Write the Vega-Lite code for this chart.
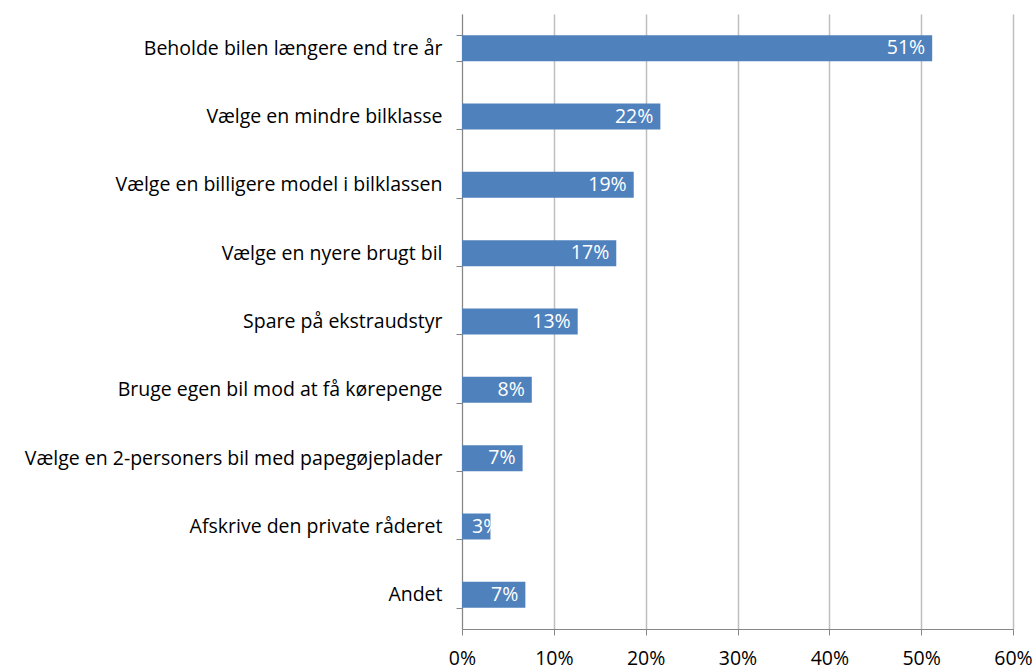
{
  "$schema": "https://vega.github.io/schema/vega-lite/v6.json",
  "width": 551,
  "height": 615,
  "autosize": {"type": "none"},
  "padding": {"left": 462, "top": 14, "right": 22, "bottom": 40},
  "background": "white",
  "config": {"view": {"stroke": null}, "font": "Open Sans"},
  "data": {
    "values": [
      {"kategori": "Beholde bilen længere end tre år", "andel": 0.512},
      {"kategori": "Vælge en mindre bilklasse", "andel": 0.216},
      {"kategori": "Vælge en billigere model i bilklassen", "andel": 0.187},
      {"kategori": "Vælge en nyere brugt bil", "andel": 0.168},
      {"kategori": "Spare på ekstraudstyr", "andel": 0.126},
      {"kategori": "Bruge egen bil mod at få kørepenge", "andel": 0.076},
      {"kategori": "Vælge en 2-personers bil med papegøjeplader", "andel": 0.066},
      {"kategori": "Afskrive den private råderet", "andel": 0.031},
      {"kategori": "Andet", "andel": 0.069}
    ]
  },
  "encoding": {
    "y": {
      "field": "kategori",
      "type": "nominal",
      "sort": null,
      "scale": {"paddingInner": 0.62, "paddingOuter": 0.31},
      "axis": {
        "title": null,
        "domainColor": "#868686",
        "tickColor": "#868686",
        "tickSize": 6,
        "tickBand": "extent",
        "labelFontSize": 19.5,
        "labelColor": "#000000",
        "labelPadding": 14,
        "labelLimit": 500,
        "grid": false
      }
    },
    "x": {
      "field": "andel",
      "type": "quantitative",
      "scale": {"domain": [0, 0.6], "nice": false},
      "axis": {
        "title": null,
        "format": ".0%",
        "values": [0, 0.1, 0.2, 0.3, 0.4, 0.5, 0.6],
        "grid": true,
        "gridColor": "#BEBEBE",
        "gridWidth": 1.5,
        "domainColor": "#868686",
        "tickColor": "#868686",
        "tickSize": 6,
        "labelFontSize": 19.5,
        "labelColor": "#000000",
        "labelPadding": 14,
        "labelFlush": false
      }
    }
  },
  "layer": [
    {"mark": {"type": "bar", "color": "#4F81BD"}},
    {
      "transform": [{"filter": "datum.andel >= 0.05"}],
      "mark": {"type": "text", "align": "right", "dx": -7, "color": "white", "fontSize": 19.5, "baseline": "middle"},
      "encoding": {"text": {"field": "andel", "type": "quantitative", "format": ".0%"}}
    },
    {
      "transform": [{"filter": "datum.andel < 0.05"}],
      "mark": {"type": "text", "align": "left", "dx": 10, "color": "white", "fontSize": 19.5, "baseline": "middle"},
      "encoding": {
        "x": {"datum": 0},
        "text": {"field": "andel", "type": "quantitative", "format": ".0%"}
      }
    }
  ]
}
